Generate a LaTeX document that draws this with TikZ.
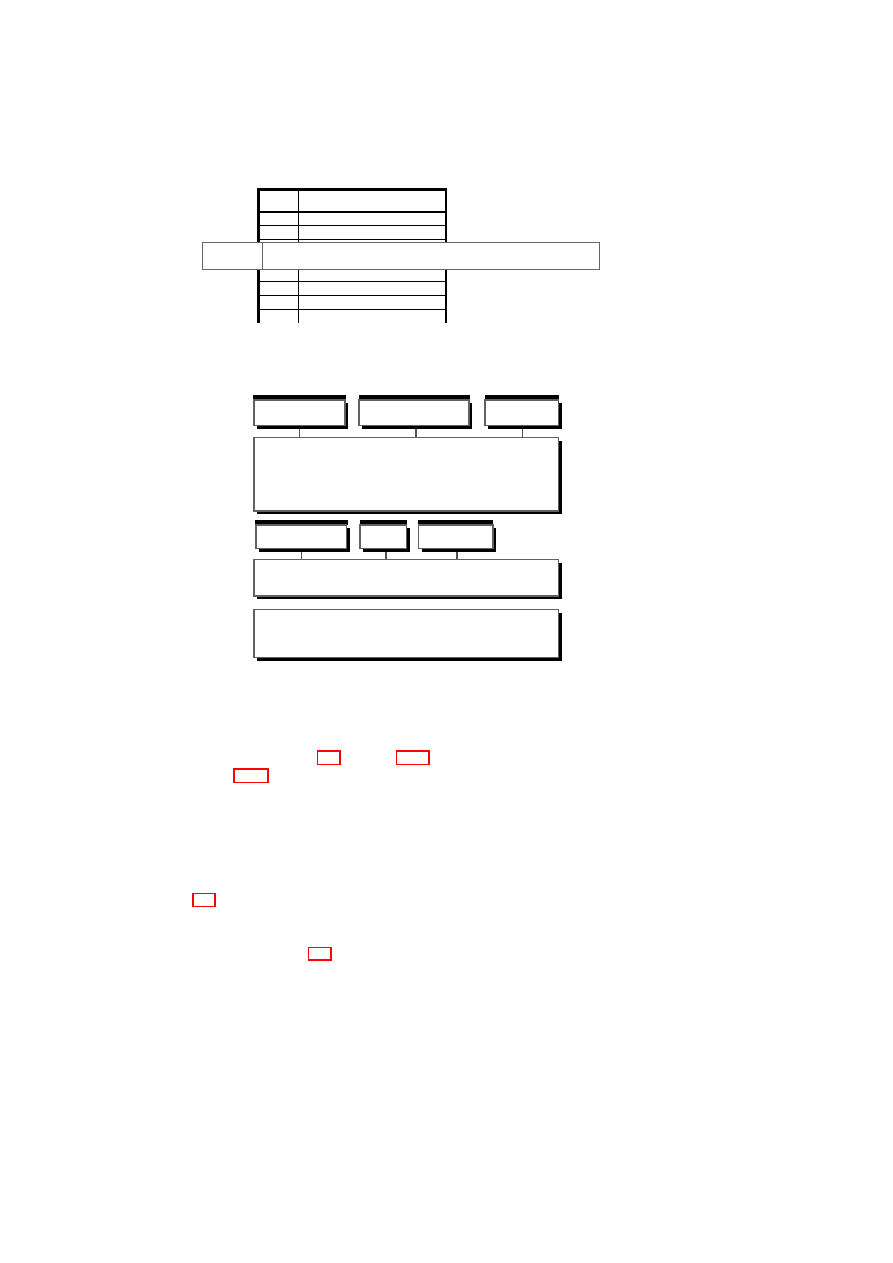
\documentclass[tikz,border=0pt]{standalone}
\usetikzlibrary{shadows}
\begin{document}
\begin{tikzpicture}[x=1pt,y=-1pt,
  gbox/.style={draw=black!62, line width=1.2pt, fill=white, inner sep=0pt, outer sep=0pt, anchor=north west,
    drop shadow={shadow xshift=3.3pt, shadow yshift=-3.3pt, fill=black, opacity=1}},
  topbar/.style={fill=black},
  conn/.style={draw=black!68, line width=1.6pt},
  redbox/.style={draw=red, line width=1.2pt, inner sep=0pt, anchor=north west},
  thick rule/.style={line width=2.6pt},
  thin rule/.style={line width=1pt}]
\useasboundingbox (0,0) rectangle (893,1263);
% ---------- table ----------
\draw[thick rule] (257.7,189.5) -- (446.7,189.5);
\draw[thick rule] (258.6,188.2) -- (258.6,322.7);
\draw[thick rule] (445.8,188.2) -- (445.8,322.7);
\draw[line width=1.6pt] (258,212) -- (446,212);
\foreach \yy in {225.3,239.3,281,295,309}
  \draw[thin rule] (258,\yy) -- (446,\yy);
\draw[thin rule] (298.7,189) -- (298.7,322.7);
\node[draw=black!60, line width=1pt, fill=white, inner sep=0pt, anchor=north west,
  minimum width=396.4pt, minimum height=27.3pt] (ov) at (202.3,241.7) {};
\draw[draw=black!60, line width=1pt] (262.3,241.7) -- (262.3,269);
% ---------- upper group ----------
\fill[topbar] (253.3,395) rectangle (346,400.3);
\fill[topbar] (358.5,395) rectangle (470,400.3);
\fill[topbar] (484.7,395) rectangle (559,400.3);
\node[gbox, minimum width=91pt, minimum height=25.7pt] (u1) at (254,400) {};
\node[gbox, minimum width=110pt, minimum height=25.7pt] (u2) at (359,400) {};
\node[gbox, minimum width=73.3pt, minimum height=25.7pt] (u3) at (485,400) {};
\node[gbox, minimum width=304.3pt, minimum height=73.7pt] (main) at (254,437.3) {};
\draw[conn] ([yshift=-3.3pt]u1.south) -- (u1.south |- main.north);
\draw[conn] ([xshift=2pt,yshift=-3.3pt]u2.south) -- ([xshift=2pt]u2.south |- main.north);
\draw[conn] ([xshift=1pt,yshift=-3.3pt]u3.south) -- ([xshift=1pt]u3.south |- main.north);
% ---------- lower group ----------
\fill[topbar] (255,520) rectangle (347.7,525.3);
\fill[topbar] (360,520) rectangle (406.7,525.3);
\fill[topbar] (418.3,520) rectangle (493.3,525.3);
\node[gbox, minimum width=90.7pt, minimum height=23.3pt] (l1) at (256,525) {};
\node[gbox, minimum width=46.7pt, minimum height=23.3pt] (l2) at (360,525) {};
\node[gbox, minimum width=74.7pt, minimum height=23.3pt] (l3) at (418.3,525) {};
\node[gbox, minimum width=304.3pt, minimum height=36.7pt] (mid) at (254,559.3) {};
\node[gbox, minimum width=304.3pt, minimum height=48.4pt] (bot) at (254,609.3) {};
\draw[conn] ([yshift=-3.3pt]l1.south) -- (l1.south |- mid.north);
\draw[conn] ([xshift=2.7pt,yshift=-3.3pt]l2.south) -- ([xshift=2.7pt]l2.south |- mid.north);
\draw[conn] ([xshift=1.3pt,yshift=-3.3pt]l3.south) -- ([xshift=1.3pt]l3.south |- mid.north);
% ---------- red boxes ----------
\node[redbox, minimum width=22.6pt, minimum height=13.7pt] (r1) at (316.7,750.3) {};
\node[redbox, minimum width=32.6pt, minimum height=13.7pt] (r2) at (395.7,750.3) {};
\node[redbox, minimum width=34pt, minimum height=13.4pt] (r3) at (233.3,768.3) {};
\node[redbox, minimum width=22pt, minimum height=13.3pt] (r4) at (192.3,892.7) {};
\node[redbox, minimum width=22.6pt, minimum height=12.6pt] (r5) at (307.7,946.7) {};
\end{tikzpicture}
\end{document}
